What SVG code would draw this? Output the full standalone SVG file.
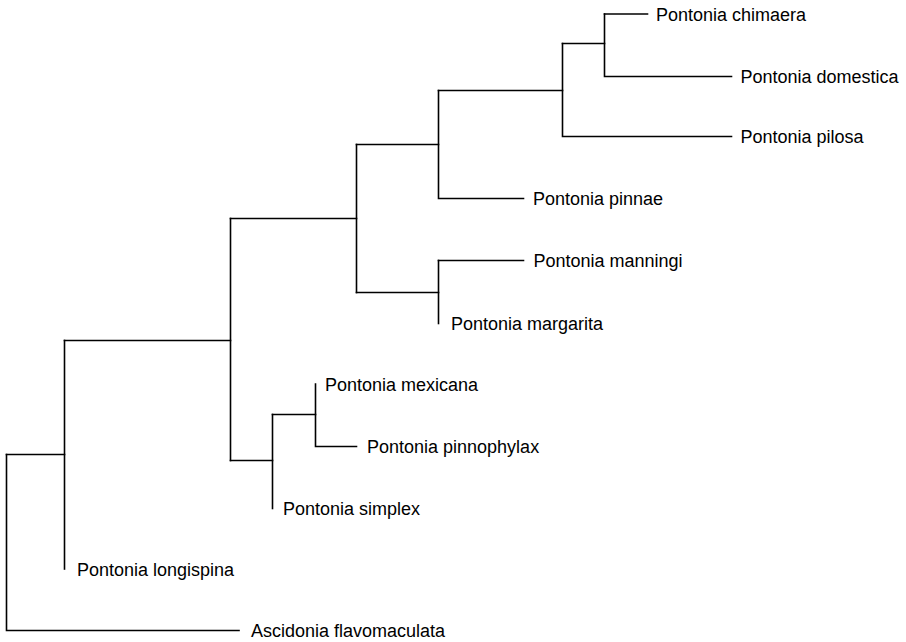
<svg xmlns="http://www.w3.org/2000/svg" width="906" height="642" viewBox="0 0 906 642">
<style>
.e{fill:none;stroke:#000;stroke-width:1.6;stroke-linecap:square}
.t{font-family:"Liberation Sans",Arial,Helvetica,sans-serif;font-size:18px;fill:#000}
</style>
<rect width="906" height="642" fill="#fff"/>
<g id="edges">
<path class="e" d="M6.5,454.5V630.5H239"/>
<path class="e" d="M6.5,454.5H64.5"/>
<path class="e" d="M64.5,340.5V569"/>
<path class="e" d="M64.5,340.5H230.5"/>
<path class="e" d="M230.5,218.5V460.5"/>
<path class="e" d="M230.5,218.5H356.5"/>
<path class="e" d="M230.5,460.5H272.5"/>
<path class="e" d="M272.5,414.5V508.5"/>
<path class="e" d="M272.5,414.5H315.5"/>
<path class="e" d="M315.5,384V446.5H356.5"/>
<path class="e" d="M356.5,144.5V292.5"/>
<path class="e" d="M356.5,144.5H438.5"/>
<path class="e" d="M356.5,292.5H438.5"/>
<path class="e" d="M438.5,260.5V323.5"/>
<path class="e" d="M438.5,260.5H523.5"/>
<path class="e" d="M438.5,90.5V198.5H523.5"/>
<path class="e" d="M438.5,90.5H562.5"/>
<path class="e" d="M562.5,43.5V136.5H731.5"/>
<path class="e" d="M562.5,43.5H604.5"/>
<path class="e" d="M604.5,14V76.5H731.5"/>
<path class="e" d="M604.5,14H647.5"/>
</g>
<g id="leaf-chimaera"><text class="t" x="656" y="20.5">Pontonia chimaera</text></g>
<g id="leaf-domestica"><text class="t" x="740.5" y="83">Pontonia domestica</text></g>
<g id="leaf-pilosa"><text class="t" x="740.5" y="143">Pontonia pilosa</text></g>
<g id="leaf-pinnae"><text class="t" x="533" y="205">Pontonia pinnae</text></g>
<g id="leaf-manningi"><text class="t" x="533.5" y="267">Pontonia manningi</text></g>
<g id="leaf-margarita"><text class="t" x="451" y="330">Pontonia margarita</text></g>
<g id="leaf-mexicana"><text class="t" x="325" y="390.5">Pontonia mexicana</text></g>
<g id="leaf-pinnophylax"><text class="t" x="367" y="453">Pontonia pinnophylax</text></g>
<g id="leaf-simplex"><text class="t" x="283" y="515">Pontonia simplex</text></g>
<g id="leaf-longispina"><text class="t" x="77" y="576">Pontonia longispina</text></g>
<g id="leaf-ascidonia"><text class="t" x="251" y="637">Ascidonia flavomaculata</text></g>
</svg>
